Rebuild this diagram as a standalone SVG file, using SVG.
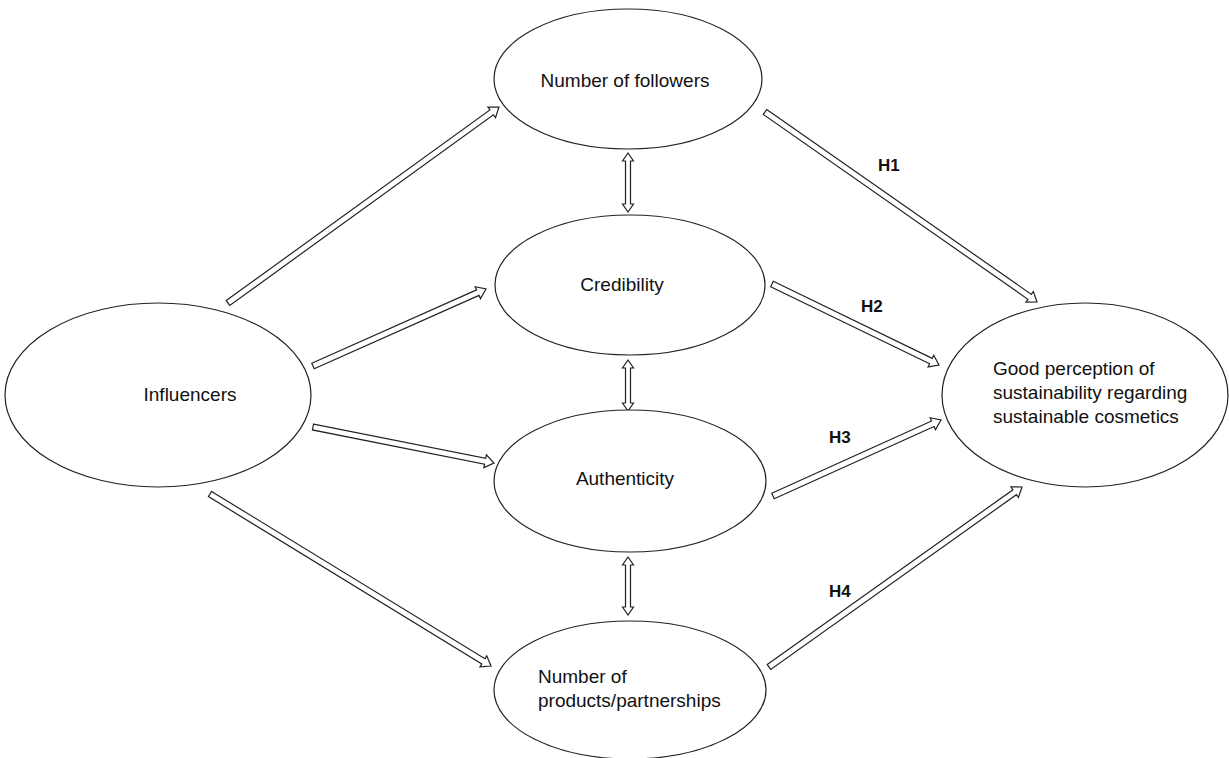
<svg xmlns="http://www.w3.org/2000/svg" width="1229" height="758" viewBox="0 0 1229 758">
<style>
.node{fill:#fff;stroke:#222;stroke-width:1.2}
.arr{fill:#fff;stroke:#222;stroke-width:1.2;stroke-linejoin:miter}
.t{font-family:"Liberation Sans",Arial,sans-serif;font-size:19px;fill:#111}
.h{font-family:"Liberation Sans",Arial,sans-serif;font-size:17px;font-weight:bold;fill:#111}
</style>
<rect width="1229" height="758" fill="#fff"/>
<g id="connectors">
<polygon class="arr" transform="translate(228,303) rotate(-35.87)" points="0,-3 325.4,-3 325.4,-6.5 334.4,0 325.4,6.5 325.4,3 0,3"/>
<polygon class="arr" transform="translate(313,366) rotate(-23.99)" points="0,-3 180.4,-3 180.4,-6.5 189.4,0 180.4,6.5 180.4,3 0,3"/>
<polygon class="arr" transform="translate(313,427) rotate(11.25)" points="0,-3 175.5,-3 175.5,-6.5 184.5,0 175.5,6.5 175.5,3 0,3"/>
<polygon class="arr" transform="translate(210,494) rotate(31.47)" points="0,-3 320.5,-3 320.5,-6.5 329.5,0 320.5,6.5 320.5,3 0,3"/>
<polygon class="arr" transform="translate(765,112) rotate(34.93)" points="0,-3 322.8,-3 322.8,-6.5 331.8,0 322.8,6.5 322.8,3 0,3"/>
<polygon class="arr" transform="translate(772,284) rotate(25.87)" points="0,-3 176.6,-3 176.6,-6.5 185.6,0 176.6,6.5 176.6,3 0,3"/>
<polygon class="arr" transform="translate(773,496) rotate(-24.34)" points="0,-3 175.4,-3 175.4,-6.5 184.4,0 175.4,6.5 175.4,3 0,3"/>
<polygon class="arr" transform="translate(769,667) rotate(-35.43)" points="0,-3 301.5,-3 301.5,-6.5 310.5,0 301.5,6.5 301.5,3 0,3"/>
<polygon class="arr" points="628,153 633.5,161 630.5,161 630.5,204 633.5,204 628,212 622.5,204 625.5,204 625.5,161 622.5,161"/>
<polygon class="arr" points="628,360 633.5,368 630.5,368 630.5,403 633.5,403 628,411 622.5,403 625.5,403 625.5,368 622.5,368"/>
<polygon class="arr" points="628,557 633.5,565 630.5,565 630.5,607 633.5,607 628,615 622.5,607 625.5,607 625.5,565 622.5,565"/>
<text class="h" x="878" y="171">H1</text>
<text class="h" x="861" y="312">H2</text>
<text class="h" x="829" y="443">H3</text>
<text class="h" x="829" y="597">H4</text>
</g>
<g id="followers">
<ellipse class="node" cx="628" cy="79" rx="134" ry="70"/>
<text class="t" x="625" y="87" text-anchor="middle">Number of followers</text>
</g>
<g id="credibility">
<ellipse class="node" cx="630" cy="285" rx="135" ry="70"/>
<text class="t" x="622" y="291" text-anchor="middle">Credibility</text>
</g>
<g id="influencers">
<ellipse class="node" cx="158" cy="395" rx="153" ry="92"/>
<text class="t" x="190" y="401" text-anchor="middle">Influencers</text>
</g>
<g id="authenticity">
<ellipse class="node" cx="630" cy="481" rx="136" ry="71"/>
<text class="t" x="625" y="485" text-anchor="middle">Authenticity</text>
</g>
<g id="products">
<ellipse class="node" cx="630" cy="690" rx="136" ry="69"/>
<text class="t" x="538" y="683">Number of</text>
<text class="t" x="538" y="707">products/partnerships</text>
</g>
<g id="perception">
<ellipse class="node" cx="1085" cy="395" rx="143" ry="92"/>
<text class="t" x="993" y="375">Good perception of</text>
<text class="t" x="993" y="399">sustainability regarding</text>
<text class="t" x="993" y="423">sustainable cosmetics</text>
</g>
</svg>
